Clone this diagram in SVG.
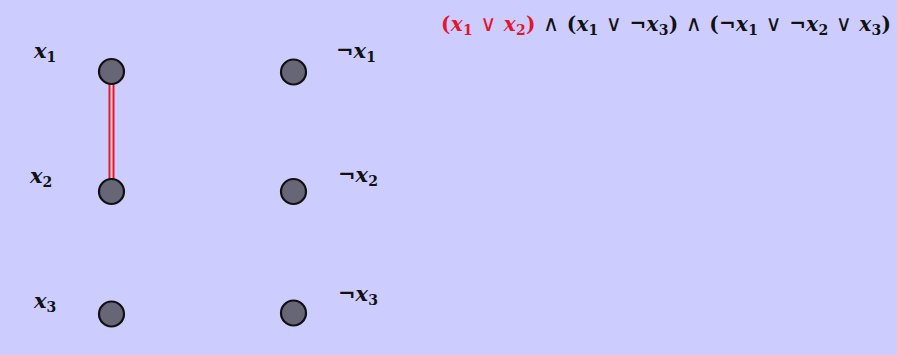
<svg xmlns="http://www.w3.org/2000/svg" width="897" height="355" viewBox="0 0 897 355">
<style>
.bg{fill:#ccccff}
.node{fill:#666677;stroke:#111111;stroke-width:2.2}
.lbl{font-family:"DejaVu Serif","Liberation Serif",serif;font-weight:bold;font-style:italic;font-size:21px;fill:#111111}
.sub{font-style:normal;font-size:14px}
.op{font-style:normal}
.sym{font-family:"DejaVu Sans",sans-serif;font-style:normal;font-weight:normal;font-size:22px}
.f{font-family:"DejaVu Serif","Liberation Serif",serif;font-weight:bold;font-style:italic;font-size:20px;fill:#111111}
.red{fill:#e3162d}
</style>
<rect class="bg" x="0" y="0" width="897" height="355"/>
<g id="connectors">
<line x1="111.5" y1="82" x2="111.5" y2="180" stroke="#e3162d" stroke-width="6"/>
<line x1="111.5" y1="82" x2="111.5" y2="180" stroke="#ffd6dc" stroke-width="2"/>
</g>
<g id="n_x1"><circle class="node" cx="111.5" cy="71.5" r="12.5"/><text class="lbl" x="34" y="58">x<tspan class="sub" dy="4">1</tspan></text></g>
<g id="n_x2"><circle class="node" cx="111.5" cy="191.5" r="12.5"/><text class="lbl" x="30" y="183">x<tspan class="sub" dy="4">2</tspan></text></g>
<g id="n_x3"><circle class="node" cx="111.5" cy="314" r="12.5"/><text class="lbl" x="34" y="308">x<tspan class="sub" dy="4">3</tspan></text></g>
<g id="n_nx1"><circle class="node" cx="293.5" cy="72" r="12.5"/><text class="lbl" x="336" y="58"><tspan class="op">¬</tspan>x<tspan class="sub" dy="4">1</tspan></text></g>
<g id="n_nx2"><circle class="node" cx="293.5" cy="191.5" r="12.5"/><text class="lbl" x="338" y="182"><tspan class="op">¬</tspan>x<tspan class="sub" dy="4">2</tspan></text></g>
<g id="n_nx3"><circle class="node" cx="293.5" cy="313" r="12.5"/><text class="lbl" x="338" y="301"><tspan class="op">¬</tspan>x<tspan class="sub" dy="4">3</tspan></text></g>
<g id="formula">
<text class="f" x="441" y="31" textLength="450" lengthAdjust="spacing"><tspan class="red op">(</tspan><tspan class="red">x</tspan><tspan class="red sub" dy="4">1</tspan><tspan class="red sym" dy="-4"> ∨ </tspan><tspan class="red">x</tspan><tspan class="red sub" dy="4">2</tspan><tspan class="red op" dy="-4">)</tspan><tspan class="sym"> ∧ </tspan><tspan class="op">(</tspan>x<tspan class="sub" dy="4">1</tspan><tspan class="sym" dy="-4"> ∨ </tspan><tspan class="op">¬</tspan>x<tspan class="sub" dy="4">3</tspan><tspan class="op" dy="-4">)</tspan><tspan class="sym"> ∧ </tspan><tspan class="op">(¬</tspan>x<tspan class="sub" dy="4">1</tspan><tspan class="sym" dy="-4"> ∨ </tspan><tspan class="op">¬</tspan>x<tspan class="sub" dy="4">2</tspan><tspan class="sym" dy="-4"> ∨ </tspan>x<tspan class="sub" dy="4">3</tspan><tspan class="op" dy="-4">)</tspan></text>
</g>
</svg>
